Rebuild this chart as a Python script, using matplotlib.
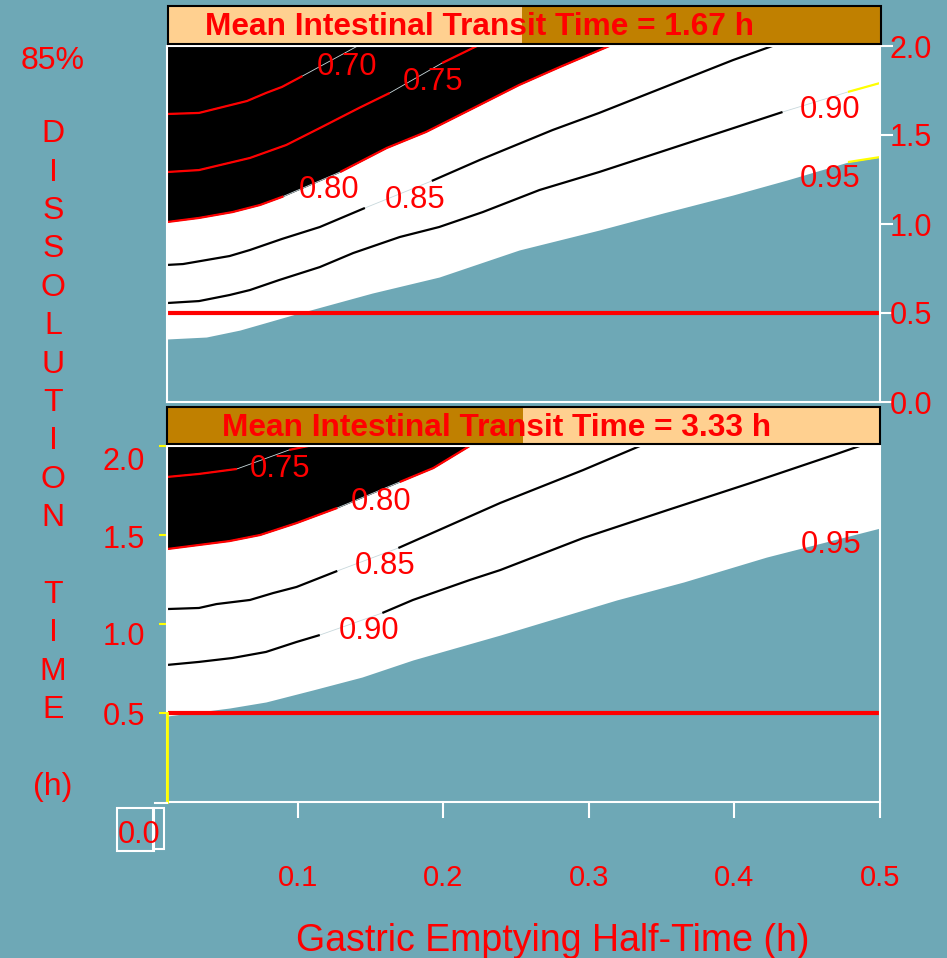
import numpy as np
import matplotlib
matplotlib.use('Agg')
import matplotlib.pyplot as plt
from matplotlib.patches import Rectangle
from matplotlib.lines import Line2D
from matplotlib import transforms

# ------------------------------------------------------------------ data
X_MIN, X_MAX = 0.01, 0.5
Y_MIN, Y_MAX = 0.0, 2.0
X_TICKS = [0.1, 0.2, 0.3, 0.4, 0.5]
X_TICK_LABELS = ['0.1', '0.2', '0.3', '0.4', '0.5']
Y_TICKS_TOP = [0.0, 0.5, 1.0, 1.5, 2.0]
Y_TICK_LABELS_TOP = ['0.0', '0.5', '1.0', '1.5', '2.0']
Y_TICKS_BOT = [0.5, 1.0, 1.5, 2.0]
Y_TICK_LABELS_BOT = ['0.5', '1.0', '1.5', '2.0']
TITLES = ['Mean Intestinal Transit Time = 1.67 h',
          'Mean Intestinal Transit Time = 3.33 h']
TARGET_DISSOLUTION = 0.5
X_LABEL = 'Gastric Emptying Half-Time (h)'
Y_LABEL = 'D\nI\nS\nS\nO\nL\nU\nT\nI\nO\nN\n\nT\nI\nM\nE\n\n(h)'
Y_LABEL_TOP = '85%'
X_ZERO_LABEL = '0.0'

# contour lines (fraction absorbed), MITT = 1.67 h
t070_x = [0.010, 0.032, 0.065, 0.078, 0.089, 0.103, 0.141]
t070_y = [1.618, 1.624, 1.691, 1.736, 1.770, 1.831, 2.000]
t075_x = [0.010, 0.032, 0.067, 0.092, 0.115, 0.142, 0.163, 0.199, 0.223]
t075_y = [1.292, 1.303, 1.371, 1.444, 1.539, 1.652, 1.736, 1.904, 2.000]
t080_x = [0.010, 0.032, 0.055, 0.074, 0.089, 0.129, 0.161, 0.188, 0.222, 0.252, 0.280, 0.314]
t080_y = [1.011, 1.034, 1.067, 1.107, 1.152, 1.292, 1.427, 1.517, 1.657, 1.781, 1.882, 2.000]
t085_x = [0.010, 0.021, 0.053, 0.067, 0.089, 0.115, 0.146, 0.192, 0.225, 0.275, 0.307, 0.399, 0.426]
t085_y = [0.770, 0.775, 0.820, 0.854, 0.916, 0.983, 1.090, 1.242, 1.360, 1.528, 1.624, 1.921, 2.000]
t090_x = [0.010, 0.032, 0.053, 0.067, 0.087, 0.115, 0.138, 0.170, 0.197, 0.227, 0.266, 0.307, 0.433, 0.478, 0.500]
t090_y = [0.556, 0.567, 0.601, 0.629, 0.685, 0.758, 0.837, 0.927, 0.983, 1.067, 1.191, 1.292, 1.629, 1.742, 1.792]
t095_x = [0.010, 0.037, 0.060, 0.101, 0.151, 0.197, 0.252, 0.307, 0.351, 0.399, 0.436, 0.478, 0.500]
t095_y = [0.354, 0.365, 0.404, 0.500, 0.612, 0.702, 0.854, 0.966, 1.062, 1.163, 1.247, 1.348, 1.376]

# contour lines (fraction absorbed), MITT = 3.33 h
b075_x = [0.010, 0.032, 0.058, 0.094, 0.107]
b075_y = [1.826, 1.843, 1.871, 1.978, 2.000]
b080_x = [0.010, 0.032, 0.053, 0.074, 0.099, 0.127, 0.170, 0.193, 0.218]
b080_y = [1.421, 1.444, 1.466, 1.500, 1.567, 1.652, 1.798, 1.876, 2.000]
b085_x = [0.010, 0.032, 0.044, 0.067, 0.083, 0.099, 0.127, 0.169, 0.239, 0.296, 0.335]
b085_y = [1.084, 1.090, 1.112, 1.135, 1.174, 1.208, 1.298, 1.427, 1.680, 1.865, 2.000]
b090_x = [0.010, 0.032, 0.055, 0.078, 0.099, 0.115, 0.158, 0.179, 0.218, 0.239, 0.296, 0.354, 0.411, 0.468, 0.486]
b090_y = [0.770, 0.787, 0.809, 0.843, 0.899, 0.938, 1.062, 1.135, 1.247, 1.303, 1.483, 1.640, 1.792, 1.949, 2.000]
b095_x = [0.010, 0.053, 0.078, 0.110, 0.144, 0.179, 0.239, 0.319, 0.365, 0.422, 0.468, 0.500]
b095_y = [0.483, 0.528, 0.562, 0.629, 0.702, 0.798, 0.938, 1.135, 1.236, 1.376, 1.472, 1.539]

# ------------------------------------------------------------------ style
W, H, DPI = 947, 958, 100
TEAL = '#6ea8b6'
PEACH = '#ffd090'
GOLD = '#c08000'
RED = '#ff0000'
GREY = '#c8d8dc'
plt.rcParams['font.family'] = ['Liberation Sans', 'DejaVu Sans']

# (label, x, y, colours before/after gap, gap, label pos)
TOP = [
    ('0.70', t070_x, t070_y, (RED, RED), (0.103, 1.0), (0.1334, 1.837)),
    ('0.75', t075_x, t075_y, (RED, RED), (0.163, 0.199), (0.1926, 1.753)),
    ('0.80', t080_x, t080_y, (RED, RED), (0.090, 0.129), (0.1217, 1.146)),
    ('0.85', t085_x, t085_y, ('black', 'black'), (0.146, 0.192), (0.1802, 1.090)),
    ('0.90', t090_x, t090_y, ('black', 'yellow'), (0.433, 0.478), (0.4656, 1.596)),
    ('0.95', t095_x, t095_y, (None, 'yellow'), (0.0, 0.478), (0.4656, 1.208)),
]
BOT = [
    ('0.75', b075_x, b075_y, (RED, RED), (0.058, 0.094), (0.0880, 1.826)),
    ('0.80', b080_x, b080_y, (RED, RED), (0.127, 0.170), (0.1568, 1.640)),
    ('0.85', b085_x, b085_y, ('black', 'black'), (0.127, 0.169), (0.1596, 1.281)),
    ('0.90', b090_x, b090_y, ('black', 'black'), (0.115, 0.158), (0.1486, 0.916)),
    ('0.95', b095_x, b095_y, (None, None), None, (0.4663, 1.399)),
]


def fx(px):
    return px / W


def fy(py):
    return 1 - py / H


def pieces(x, y, gap):
    x = np.asarray(x, float)
    y = np.asarray(y, float)
    g0, g1 = gap
    out = []
    m = x < g0
    if m.any():
        out.append((np.append(x[m], g0), np.append(y[m], np.interp(g0, x, y))))
    else:
        out.append(None)
    m = x > g1
    if m.any():
        out.append((np.insert(x[m], 0, g1), np.insert(y[m], 0, np.interp(g1, x, y))))
    else:
        out.append(None)
    return out


fig = plt.figure(figsize=(W / DPI, H / DPI), dpi=DPI, facecolor=TEAL)
L, R = 167, 880
ax_top = fig.add_axes([fx(L), fy(402), fx(R) - fx(L), fy(46) - fy(402)])
ax_bot = fig.add_axes([fx(L), fy(802), fx(R) - fx(L), fy(446) - fy(802)])


def draw_panel(ax, spec):
    ax.set_facecolor(TEAL)
    ax.set_xlim(X_MIN, X_MAX)
    ax.set_ylim(Y_MIN, Y_MAX)
    d = {s[0]: s for s in spec}
    x95, y95 = d['0.95'][1], d['0.95'][2]
    ax.fill_between(x95, y95, Y_MAX, color='white', lw=0, zorder=1)
    x80, y80 = d['0.80'][1], d['0.80'][2]
    ax.fill_between(x80, y80, Y_MAX, color='black', lw=0, zorder=2)
    for lab, x, y, cols, gap, (lx, ly) in spec:
        if gap is not None:
            if cols[0] is not None:
                ax.plot(x, y, color=GREY, lw=0.6, zorder=3)
            for pc, c in zip(pieces(x, y, gap), cols):
                if pc is not None and c is not None:
                    ax.plot(pc[0], pc[1], color=c, lw=1.6, zorder=4,
                            solid_capstyle='butt')
        ax.text(lx, ly, lab, color=RED, fontsize=22.3, ha='center',
                va='baseline', zorder=6)
    ax.axhline(TARGET_DISSOLUTION, color=RED, lw=3, zorder=5)
    for s in ax.spines.values():
        s.set_color('white')
        s.set_linewidth(1.5)
        s.set_zorder(7)


draw_panel(ax_top, TOP)
draw_panel(ax_bot, BOT)

# top axis ticks (right side)
ax_top.set_xticks([])
ax_top.yaxis.tick_right()
ax_top.set_yticks(Y_TICKS_TOP)
ax_top.set_yticklabels(Y_TICK_LABELS_TOP)
ax_top.tick_params(axis='y', direction='out', length=9, width=1.5,
                   color='white', labelcolor=RED, labelsize=22, pad=-2)

# bottom axis ticks
ax_bot.set_xticks(X_TICKS)
ax_bot.set_xticklabels(X_TICK_LABELS)
ax_bot.tick_params(axis='x', direction='out', length=11.5, width=1.5,
                   color='white', labelcolor=RED, labelsize=21, pad=33)
ax_bot.set_yticks(Y_TICKS_BOT)
ax_bot.tick_params(axis='y', direction='out', length=6, width=1.5,
                   color='yellow', labelleft=False)
LABEL_DROP = [12, 21, 13, 24]   # pixel drop of each left label below its tick
for v, t, dv in zip(Y_TICKS_BOT, Y_TICK_LABELS_BOT, LABEL_DROP):
    tr = transforms.offset_copy(ax_bot.get_yaxis_transform(), fig=fig,
                                x=-22, y=-dv, units='dots')
    ax_bot.text(0, v, t, transform=tr, ha='right', va='baseline',
                color=RED, fontsize=22, clip_on=False)
ax_bot.axvline(X_MIN, ymin=0, ymax=TARGET_DISSOLUTION / Y_MAX,
               color='yellow', lw=2, zorder=8, clip_on=False)


def title_box(x0, x1, xs, y0, y1, left_col, right_col, text, tx, tbase):
    fig.add_artist(Rectangle((fx(x0), fy(y1)), fx(xs) - fx(x0), fy(y0) - fy(y1),
                             transform=fig.transFigure, facecolor=left_col,
                             edgecolor='none'))
    fig.add_artist(Rectangle((fx(xs), fy(y1)), fx(x1) - fx(xs), fy(y0) - fy(y1),
                             transform=fig.transFigure, facecolor=right_col,
                             edgecolor='none'))
    fig.add_artist(Rectangle((fx(x0), fy(y1)), fx(x1) - fx(x0), fy(y0) - fy(y1),
                             transform=fig.transFigure, facecolor='none',
                             edgecolor='black', lw=1.5))
    fig.text(fx(tx), fy(tbase), text, ha='center', va='baseline', color=RED,
             fontsize=22.8, fontweight='bold')


title_box(168, 881, 522, 6, 44, PEACH, GOLD, TITLES[0], 479, 35)
title_box(167, 880, 523, 407, 444, GOLD, PEACH, TITLES[1], 497, 436)

# axis labels
fig.text(fx(553), fy(951), X_LABEL, ha='center', va='baseline', color=RED,
         fontsize=27)
fig.text(fx(53), fy(795), Y_LABEL, ha='center', va='baseline', color=RED,
         fontsize=23, multialignment='center', linespacing=1.365)
fig.text(fx(53), fy(69), Y_LABEL_TOP, ha='center', va='baseline', color=RED,
         fontsize=23)

# 0.0 label at origin with its boxes
fig.text(fx(139), fy(843), X_ZERO_LABEL, ha='center', va='baseline',
         color=RED, fontsize=22)
for (a, b, c, e) in [(117, 808, 154, 851), (153, 808, 164, 849)]:
    fig.add_artist(Rectangle((fx(a), fy(e)), fx(c) - fx(a), fy(b) - fy(e),
                             transform=fig.transFigure, facecolor='none',
                             edgecolor='white', lw=1.5))
fig.add_artist(Line2D([fx(155), fx(167)], [fy(803), fy(803)], color='white',
                      lw=1.5, transform=fig.transFigure))

fig.savefig('out.png', dpi=DPI, facecolor=TEAL)
